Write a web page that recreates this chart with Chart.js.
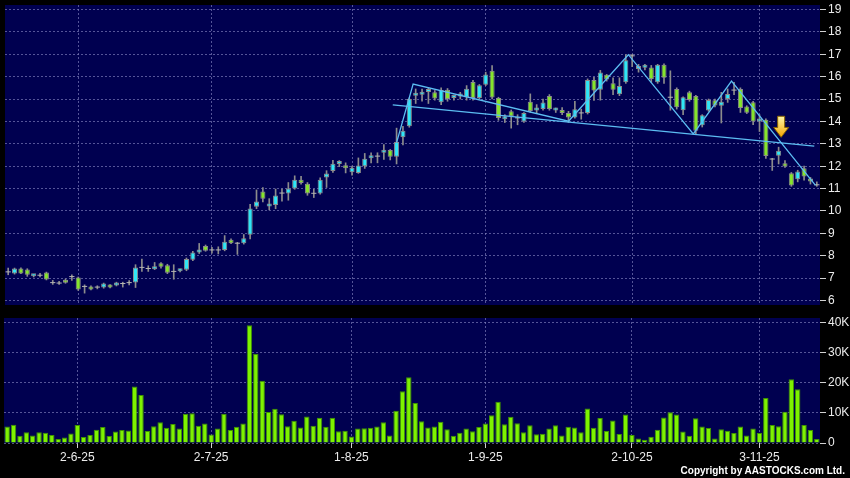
<!DOCTYPE html>
<html>
<head>
<meta charset="utf-8">
<script src="https://cdn.jsdelivr.net/npm/chart.js@4.4.1/dist/chart.umd.min.js"></script>
<style>
    html, body { margin: 0; padding: 0; background: #000; }
    #wrap { position: relative; width: 850px; height: 478px; background: #000; overflow: hidden; }
    #priceBox { position: absolute; left: 0; top: 0; width: 850px; height: 310px; }
    #volBox { position: absolute; left: 0; top: 310px; width: 850px; height: 168px; }
    #copy { position: absolute; right: 5px; top: 465px; font: bold 10px "Liberation Sans", Arial, sans-serif; color: #fff; letter-spacing: 0; }
</style>
</head>
<body>
<div id="wrap">
    <div id="priceBox"><canvas id="priceChart" width="850" height="310"></canvas></div>
    <div id="volBox"><canvas id="volChart" width="850" height="168"></canvas></div>
    <div id="copy">Copyright by AASTOCKS.com Ltd.</div>
</div>
<script>
// Daily OHLC
const opens = [7.28, 7.21, 7.43, 7.39, 7.08, 7.13, 7.25, 6.8, 6.78, 6.93,
    7.07, 7.03, 6.63, 6.63, 6.6, 6.58, 6.69, 6.67, 6.76, 6.8,
    6.8, 7.48, 7.43, 7.4, 7.66, 7.57, 7.3, 7.31, 7.37, 7.82,
    8.14, 8.44, 8.26, 8.26, 8.26, 8.72, 8.56, 8.56, 8.94, 10.19,
    10.87, 10.2, 10.27, 10.8, 10.78, 11.0, 11.4, 11.22, 10.79, 10.78,
    11.49, 11.79, 12.1, 12.0, 11.73, 11.7, 12.0, 12.36, 12.45, 12.6,
    12.72, 12.42, 13.29, 13.78, 15.15, 15.19, 15.31, 15.3, 14.86, 15.42,
    15.05, 15.11, 15.08, 15.76, 15.05, 15.64, 16.26, 15.05, 14.1, 14.45,
    14.16, 14.0, 14.88, 14.49, 14.56, 15.14, 14.49, 14.49, 14.38, 14.18,
    14.38, 14.38, 15.85, 15.41, 16.08, 15.7, 15.21, 15.75, 16.93, 16.34,
    16.4, 16.41, 15.75, 16.53, 15.08, 15.45, 14.5, 15.3, 15.13, 13.83,
    14.49, 14.94, 14.7, 15.0, 15.4, 15.45, 14.67, 14.86, 14.0, 14.08,
    12.32, 12.47, 12.13, 11.69, 11.42, 11.91, 11.4, 11.17];
const highs = [7.45, 7.45, 7.46, 7.42, 7.15, 7.22, 7.27, 6.9, 6.86, 6.96,
    7.15, 7.05, 6.7, 6.66, 6.66, 6.78, 6.71, 6.82, 6.82, 6.89,
    7.6, 7.85, 7.55, 7.7, 7.7, 7.62, 7.6, 7.4, 7.9, 8.2,
    8.55, 8.48, 8.38, 8.4, 8.9, 8.76, 8.6, 8.95, 10.3, 10.94,
    11.05, 10.55, 10.98, 10.98, 11.27, 11.57, 11.55, 11.27, 10.97, 11.48,
    11.8, 12.26, 12.25, 12.15, 12.0, 12.37, 12.57, 12.6, 12.6, 12.97,
    12.75, 13.7, 13.78, 15.05, 15.45, 15.45, 15.5, 15.38, 15.5, 15.47,
    15.18, 15.3, 15.6, 15.83, 15.65, 16.2, 16.49, 15.08, 14.3, 14.51,
    14.3, 14.4, 15.23, 14.75, 15.0, 15.2, 14.6, 14.62, 14.45, 14.9,
    14.55, 15.9, 15.97, 16.28, 16.1, 15.95, 15.95, 16.98, 17.0, 16.55,
    16.55, 16.5, 16.55, 16.57, 16.26, 15.5, 15.1, 15.35, 15.16, 14.3,
    15.0, 15.0, 15.3, 15.45, 15.75, 15.5, 14.7, 14.9, 14.3, 14.12,
    12.35, 12.85, 12.25, 11.72, 11.82, 12.0, 11.5, 11.3];
const lows = [7.15, 7.18, 7.2, 7.08, 7.05, 7.05, 6.92, 6.72, 6.72, 6.77,
    6.9, 6.45, 6.33, 6.47, 6.52, 6.55, 6.56, 6.65, 6.6, 6.7,
    6.58, 7.3, 7.3, 7.38, 7.45, 7.2, 6.95, 7.28, 7.33, 7.78,
    8.1, 8.2, 8.12, 8.08, 8.22, 8.54, 8.06, 8.52, 8.75, 10.1,
    10.4, 10.05, 10.1, 10.44, 10.48, 10.97, 11.2, 10.7, 10.6, 10.75,
    11.05, 11.72, 11.98, 11.7, 11.6, 11.68, 11.9, 12.15, 12.15, 12.3,
    12.28, 12.1, 12.95, 13.74, 14.8, 14.9, 14.8, 14.95, 14.75, 14.9,
    14.95, 15.0, 14.95, 14.95, 15.0, 15.6, 15.0, 14.05, 13.95, 13.7,
    13.85, 13.95, 14.4, 14.35, 14.5, 14.5, 14.4, 14.3, 13.95, 14.14,
    14.1, 14.33, 14.94, 14.95, 15.8, 15.2, 15.15, 15.7, 16.45, 16.2,
    16.3, 15.75, 15.7, 15.7, 14.5, 14.55, 14.3, 14.9, 13.45, 13.75,
    14.45, 14.65, 13.93, 14.85, 15.2, 14.4, 14.35, 13.85, 13.55, 12.35,
    11.81, 12.1, 11.95, 11.1, 11.3, 11.38, 11.2, 11.1];
const closes = [7.28, 7.43, 7.21, 7.15, 7.13, 7.13, 6.94, 6.8, 6.78, 6.79,
    7.07, 6.49, 6.63, 6.49, 6.6, 6.76, 6.58, 6.79, 6.76, 6.8,
    7.48, 7.48, 7.43, 7.49, 7.51, 7.24, 7.3, 7.36, 7.85, 8.14,
    8.22, 8.22, 8.26, 8.26, 8.62, 8.56, 8.56, 8.78, 10.11, 10.42,
    10.55, 10.33, 10.69, 10.8, 11.0, 11.4, 11.25, 10.78, 10.79, 11.4,
    11.67, 12.11, 12.19, 11.91, 11.93, 12.03, 12.33, 12.46, 12.45, 12.68,
    12.42, 13.08, 13.58, 15.0, 15.24, 15.28, 15.38, 15.02, 15.4, 15.0,
    15.11, 15.19, 15.46, 15.05, 15.62, 16.1, 15.07, 14.15, 14.18, 14.23,
    14.16, 14.38, 14.46, 14.56, 14.85, 14.56, 14.56, 14.38, 14.18, 14.54,
    14.38, 15.85, 15.38, 16.19, 15.87, 15.42, 15.58, 16.73, 16.93, 16.41,
    16.48, 15.89, 16.53, 15.95, 15.08, 14.63, 15.08, 14.96, 13.58, 14.27,
    14.96, 14.71, 14.88, 15.23, 15.4, 14.6, 14.39, 14.0, 14.12, 12.46,
    12.32, 12.69, 11.99, 11.14, 11.76, 11.54, 11.32, 11.17];
const volumes = [5500, 6100, 2400, 3600, 2500, 3600, 3400, 2700, 1300, 1800,
    3200, 6000, 2000, 2700, 4400, 5300, 2300, 3800, 4300, 4200,
    18800, 16000, 4000, 5600, 6900, 5100, 6300, 4800, 9700, 9900,
    5700, 6500, 2800, 4800, 9700, 4300, 5400, 6500, 39200, 29700,
    20700, 10300, 11400, 9600, 5600, 7400, 5200, 8800, 5700, 8400,
    5400, 8400, 3900, 4100, 2200, 4800, 4900, 5100, 5500, 6900,
    2500, 10700, 17200, 21900, 13300, 7200, 5200, 5500, 7100, 4600,
    2400, 3400, 4800, 3900, 5300, 6500, 9200, 13700, 6200, 8700,
    6600, 3600, 5900, 2900, 3100, 4800, 5900, 2500, 5400, 5200,
    3600, 11500, 5100, 8300, 4000, 7500, 3000, 9500, 2700, 1500,
    1100, 2100, 4400, 8500, 10200, 9500, 3800, 2400, 8200, 5500,
    5000, 1500, 4600, 4100, 3300, 5500, 2500, 4800, 3300, 15000,
    6000, 5600, 10400, 21200, 17900, 6000, 4300, 1300];

// date ticks (bar index of each label)
const tickIndex = [11, 32, 54, 75, 98, 118];
const tickLabels = ['2-6-25', '2-7-25', '1-8-25', '1-9-25', '2-10-25', '3-11-25'];
const priceTicks = [6, 7, 8, 9, 10, 11, 12, 13, 14, 15, 16, 17, 18, 19];
const volTicks = [0, 10000, 20000, 30000, 40000];

// hand drawn trend lines (bar index / price) and the arrow marker
const zigzagX = [61, 63.6, 88, 97.4, 107.6, 113.6, 126.8];
const zigzagY = [13.05, 15.67, 14.01, 16.98, 13.44, 15.8, 11.14];
const necklineX = [60.4, 126.6];
const necklineY = [14.74, 12.9];
const arrowIndex = 121.4;
const arrowPrices = [14.23, 13.73, 13.29]; // top, head start, tip

const NAVY = '#000050';
const GRID = 'rgba(130,130,190,0.65)';
const TXT = '#ececec';
const FONT = { family: '"Liberation Sans", Arial, sans-serif', size: 12 };
const UP = '#30e6f6';
const DOWN = '#86e42c';
const EDGE = '#8c8c8c';
const TREND = '#5cbdf2';

const xLabels = volumes.map((v, i) => {
    const k = tickIndex.indexOf(i);
    return k >= 0 ? tickLabels[k] : '';
});

// black page, navy plot area
const panelBg = {
    id: 'panelBg',
    beforeDraw(chart) {
        const { ctx, chartArea: a } = chart;
        ctx.save();
        ctx.fillStyle = '#000';
        ctx.fillRect(0, 0, chart.width, chart.height);
        ctx.fillStyle = NAVY;
        ctx.fillRect(a.left, a.top, a.right - a.left, a.bottom - a.top);
        ctx.restore();
    }
};

const arrowMark = {
    id: 'arrowMark',
    afterDatasetsDraw(chart) {
        const ctx = chart.ctx;
        const cx = chart.scales.x.getPixelForValue(arrowIndex);
        const [t, n, tip] = arrowPrices.map(p => chart.scales.y.getPixelForValue(p));
        const g = ctx.createLinearGradient(0, t, 0, tip);
        g.addColorStop(0, '#fff7a8');
        g.addColorStop(1, '#f3a400');
        ctx.save();
        ctx.beginPath();
        ctx.moveTo(cx - 3.5, t);
        ctx.lineTo(cx + 3.5, t);
        ctx.lineTo(cx + 3.5, n);
        ctx.lineTo(cx + 7.5, n);
        ctx.lineTo(cx, tip);
        ctx.lineTo(cx - 7.5, n);
        ctx.lineTo(cx - 3.5, n);
        ctx.closePath();
        ctx.fillStyle = g;
        ctx.fill();
        ctx.strokeStyle = '#8a6400';
        ctx.lineWidth = 1;
        ctx.stroke();
        ctx.restore();
    }
};

const onlyDateTicks = axis => { axis.ticks = tickIndex.map(v => ({ value: v })); };
const rightAxisFit = axis => { axis.width = 30; axis.paddingTop = 0; axis.paddingBottom = 0; };

// Price panel
new Chart(document.getElementById('priceChart'), {
    type: 'bar',
    data: {
        labels: xLabels,
        datasets: [
            {
                // parsing off so fractional bar positions are kept
                type: 'line', label: 'zigzag', parsing: false,
                data: zigzagX.map((x, i) => ({ x: x, y: zigzagY[i] })),
                borderColor: TREND, borderWidth: 1.3, pointRadius: 0, order: 0
            },
            {
                type: 'line', label: 'neckline', parsing: false,
                data: necklineX.map((x, i) => ({ x: x, y: necklineY[i] })),
                borderColor: TREND, borderWidth: 1.3, pointRadius: 0, order: 0
            },
            {
                type: 'line', label: 'doji',
                data: closes.map((c, i) => c === opens[i] ? c : null),
                showLine: false, pointStyle: 'line', pointRadius: 2.6,
                borderColor: '#b4b4b4', borderWidth: 1, order: 1
            },
            {
                label: 'body',
                data: opens.map((o, i) => o === closes[i] ? null : [o, closes[i]]),
                backgroundColor: opens.map((o, i) => closes[i] > o ? UP : DOWN),
                borderColor: EDGE, borderWidth: 1, borderSkipped: false,
                minBarLength: 3, barPercentage: 0.8, categoryPercentage: 1,
                grouped: false, order: 2
            },
            {
                label: 'wick',
                data: lows.map((l, i) => [l, highs[i]]),
                backgroundColor: EDGE, barThickness: 1,
                grouped: false, order: 3
            }
        ]
    },
    options: {
        responsive: false,
        animation: false,
        layout: { padding: { left: 4, top: 4, right: 0, bottom: 3 } },
        plugins: { legend: { display: false }, tooltip: { enabled: false } },
        scales: {
            x: {
                offset: true,
                grid: { color: GRID, offset: false, drawTicks: false },
                border: { display: false, dash: [2, 2] },
                ticks: { display: false },
                afterBuildTicks: onlyDateTicks,
                afterFit: axis => { axis.height = 0; axis.paddingLeft = 0; axis.paddingRight = 0; }
            },
            y: {
                position: 'right', min: 5.8, max: 19.2,
                afterBuildTicks: axis => { axis.ticks = priceTicks.map(v => ({ value: v })); },
                afterFit: rightAxisFit,
                grid: { color: GRID, tickLength: 6, tickColor: '#d0d0d0', tickBorderDash: [] },
                border: { display: false, dash: [2, 2] },
                ticks: { color: TXT, font: FONT, padding: 2 }
            }
        }
    },
    plugins: [panelBg, arrowMark]
});

// Volume panel
new Chart(document.getElementById('volChart'), {
    type: 'bar',
    data: {
        labels: xLabels,
        datasets: [{
            label: 'volume',
            data: volumes,
            backgroundColor: '#7ef200',
            borderColor: '#3f9400',
            borderWidth: 1,
            barPercentage: 0.85,
            categoryPercentage: 1
        }]
    },
    options: {
        responsive: false,
        animation: false,
        layout: { padding: { left: 4, top: 8, right: 0, bottom: 0 } },
        plugins: { legend: { display: false }, tooltip: { enabled: false } },
        scales: {
            x: {
                offset: true,
                grid: { color: GRID, offset: false, tickLength: 5, tickColor: '#d0d0d0', tickBorderDash: [] },
                border: { display: false, dash: [2, 2] },
                ticks: { color: TXT, font: FONT, maxRotation: 0, autoSkip: false, padding: 2 },
                afterBuildTicks: onlyDateTicks,
                afterFit: axis => { axis.height = 35; axis.paddingLeft = 0; axis.paddingRight = 0; }
            },
            y: {
                position: 'right', min: 0, max: 41600,
                afterBuildTicks: axis => { axis.ticks = volTicks.map(v => ({ value: v })); },
                afterFit: rightAxisFit,
                grid: { color: GRID, tickLength: 6, tickColor: '#d0d0d0', tickBorderDash: [] },
                border: { display: false, dash: [2, 2] },
                ticks: {
                    color: TXT, font: FONT, padding: 2,
                    callback: v => v === 0 ? '0' : (v / 1000) + 'K'
                }
            }
        }
    },
    plugins: [panelBg]
});
</script>
</body>
</html>
